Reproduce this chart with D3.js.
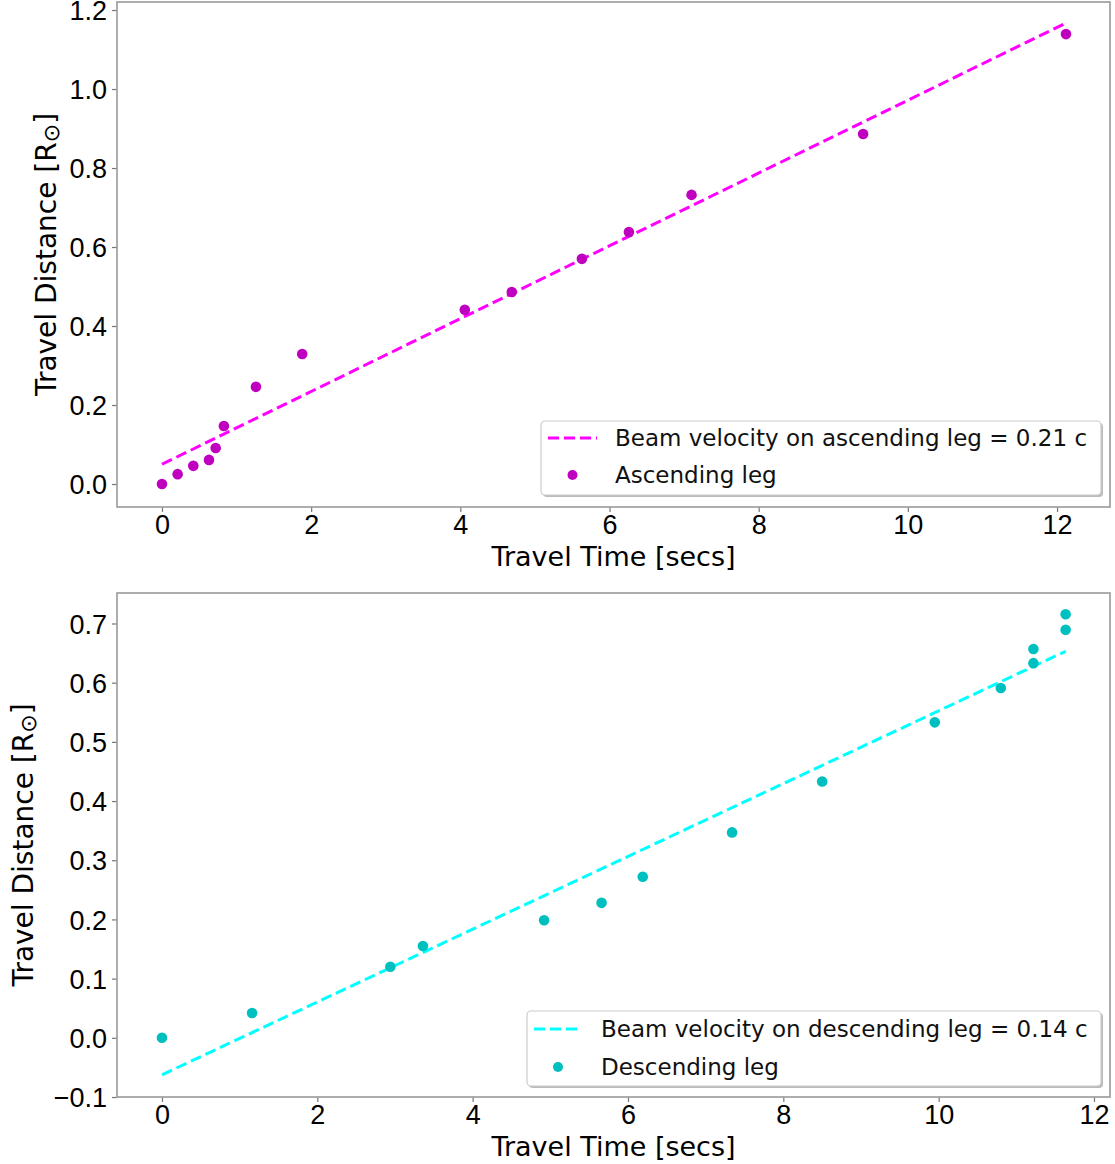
<!DOCTYPE html>
<html><head><meta charset="utf-8">
<script src="https://cdn.jsdelivr.net/npm/d3@7"></script>
<style>
body{margin:0;background:#fff;}
svg{display:block;font-family:"DejaVu Sans",sans-serif;}
</style></head>
<body>
<svg id="chart" width="1115" height="1164"></svg>
<script>
// ---- Data ----
const ascTime = [0, 0.21, 0.42, 0.63, 0.72, 0.83, 1.26, 1.88, 4.06, 4.69, 5.63, 6.26, 7.10, 9.40, 12.12];
const ascDist = [0, 0.025, 0.046, 0.061, 0.091, 0.147, 0.246, 0.329, 0.441, 0.486, 0.570, 0.638, 0.732, 0.886, 1.139];
const ascFitTime = [0, 12.12];
const ascFitDist = [0.05, 1.167];

const descTime = [0, 1.16, 2.94, 3.36, 4.92, 5.66, 6.19, 7.34, 8.50, 9.95, 10.80, 11.22, 11.22, 11.635, 11.635];
const descDist = [0, 0.042, 0.120, 0.155, 0.1985, 0.228, 0.272, 0.347, 0.433, 0.533, 0.591, 0.657, 0.633, 0.7155, 0.6895];
const descFitTime = [0, 11.635];
const descFitDist = [-0.0625, 0.653];

const xTicksTop = [0, 2, 4, 6, 8, 10, 12];
const yTicksTop = [0.0, 0.2, 0.4, 0.6, 0.8, 1.0, 1.2];
const xTicksBottom = [0, 2, 4, 6, 8, 10, 12];
const yTicksBottom = [-0.1, 0.0, 0.1, 0.2, 0.3, 0.4, 0.5, 0.6, 0.7];

const legendTop = ["Beam velocity on ascending leg = 0.21 c", "Ascending leg"];
const legendBottom = ["Beam velocity on descending leg = 0.14 c", "Descending leg"];

const svg = d3.select("#chart");

function panel(cfg) {
  const {left, right, top, bottom, xDom, yDom, xTicks, yTicks, yFmt,
         times, dists, fitT, fitD, ptColor, lineColor, legend, leg} = cfg;
  const x = d3.scaleLinear().domain(xDom).range([left, right]);
  const y = d3.scaleLinear().domain(yDom).range([bottom, top]);
  const g = svg.append("g");

  // axes
  const xAxis = d3.axisBottom(x).tickValues(xTicks).tickSize(5).tickPadding(3).tickFormat(d3.format("d"));
  const yAxis = d3.axisLeft(y).tickValues(yTicks).tickSize(5).tickPadding(5).tickFormat(yFmt);
  const gx = g.append("g").attr("transform", `translate(0,${bottom})`).call(xAxis);
  const gy = g.append("g").attr("transform", `translate(${left},0)`).call(yAxis);
  [gx, gy].forEach(a => {
    a.select(".domain").remove();
    a.selectAll(".tick line").attr("stroke", "#777").attr("stroke-width", 1.2);
    a.selectAll(".tick text").attr("fill", "#000").style("font-size", "27px");
  });
  gy.selectAll(".tick text").attr("dy", "0.36em");

  // frame
  g.append("rect").attr("x", left).attr("y", top).attr("width", right - left).attr("height", bottom - top)
    .attr("fill", "none").attr("stroke", "#999").attr("stroke-width", 1.6);

  // fit line
  const fit = fitT.map((t, i) => [t, fitD[i]]);
  g.append("path").datum(fit)
    .attr("d", d3.line().x(d => x(d[0])).y(d => y(d[1])))
    .attr("fill", "none").attr("stroke", lineColor).attr("stroke-width", 3)
    .attr("stroke-dasharray", "11,5");

  // points
  g.selectAll("circle.pt").data(times.map((t, i) => [t, dists[i]])).enter().append("circle")
    .attr("class", "pt").attr("cx", d => x(d[0])).attr("cy", d => y(d[1])).attr("r", 5.3)
    .attr("fill", ptColor);

  // axis labels
  g.append("text").attr("x", (left + right) / 2).attr("y", cfg.xLabelY).attr("text-anchor", "middle")
    .style("font-size", "27px").text("Travel Time [secs]");
  const yl = g.append("text").attr("transform", `translate(${cfg.yLabelX},${(top + bottom) / 2}) rotate(-90)`)
    .attr("text-anchor", "middle").style("font-size", "28px");
  yl.append("tspan").text("Travel Distance [R");
  yl.append("tspan").attr("dy", "0.15em").style("font-size", "22px").text("⊙");
  yl.append("tspan").attr("dy", "-0.15em").text("]");

  // legend
  g.append("rect").attr("x", leg.x0 + 2).attr("y", leg.y0 + 2).attr("width", leg.x1 - leg.x0).attr("height", leg.y1 - leg.y0)
    .attr("rx", 4).attr("fill", "#bbb");
  g.append("rect").attr("x", leg.x0).attr("y", leg.y0).attr("width", leg.x1 - leg.x0).attr("height", leg.y1 - leg.y0)
    .attr("rx", 4).attr("fill", "#fff").attr("stroke", "#ccc").attr("stroke-width", 1.2);
  g.append("line").attr("x1", leg.lx0).attr("x2", leg.lx1).attr("y1", leg.row1).attr("y2", leg.row1)
    .attr("stroke", lineColor).attr("stroke-width", 3).attr("stroke-dasharray", "11,5");
  g.append("circle").attr("cx", (leg.lx0 + leg.lx1) / 2).attr("cy", leg.row2).attr("r", 5).attr("fill", ptColor);
  g.append("text").attr("x", leg.tx).attr("y", leg.row1).attr("dy", "0.36em").style("font-size", "23px").attr("fill", "#111").text(legend[0]);
  g.append("text").attr("x", leg.tx).attr("y", leg.row2).attr("dy", "0.36em").style("font-size", "23px").attr("fill", "#111").text(legend[1]);
}

panel({
  left: 117, right: 1110, top: 2, bottom: 507,
  xDom: [-0.603, 12.71], yDom: [-0.0582, 1.2203],
  xTicks: xTicksTop, yTicks: yTicksTop, yFmt: d3.format(".1f"),
  times: ascTime, dists: ascDist, fitT: ascFitTime, fitD: ascFitDist,
  ptColor: "#bf00bf", lineColor: "#ff00ff", legend: legendTop,
  xLabelY: 566, yLabelX: 56,
  leg: {x0: 541, x1: 1101, y0: 421, y1: 495, lx0: 548, lx1: 597, tx: 615, row1: 438, row2: 475}
});

panel({
  left: 117, right: 1110, top: 593, bottom: 1097,
  xDom: [-0.579, 12.206], yDom: [-0.1, 0.7515],
  xTicks: xTicksBottom, yTicks: yTicksBottom, yFmt: d => d3.format(".1f")(d).replace("-", "\u2212"),
  times: descTime, dists: descDist, fitT: descFitTime, fitD: descFitDist,
  ptColor: "#00bfbf", lineColor: "#00ffff", legend: legendBottom,
  xLabelY: 1156, yLabelX: 33,
  leg: {x0: 527, x1: 1101, y0: 1011, y1: 1086, lx0: 534, lx1: 582, tx: 601, row1: 1029, row2: 1067}
});
</script>
</body></html>
